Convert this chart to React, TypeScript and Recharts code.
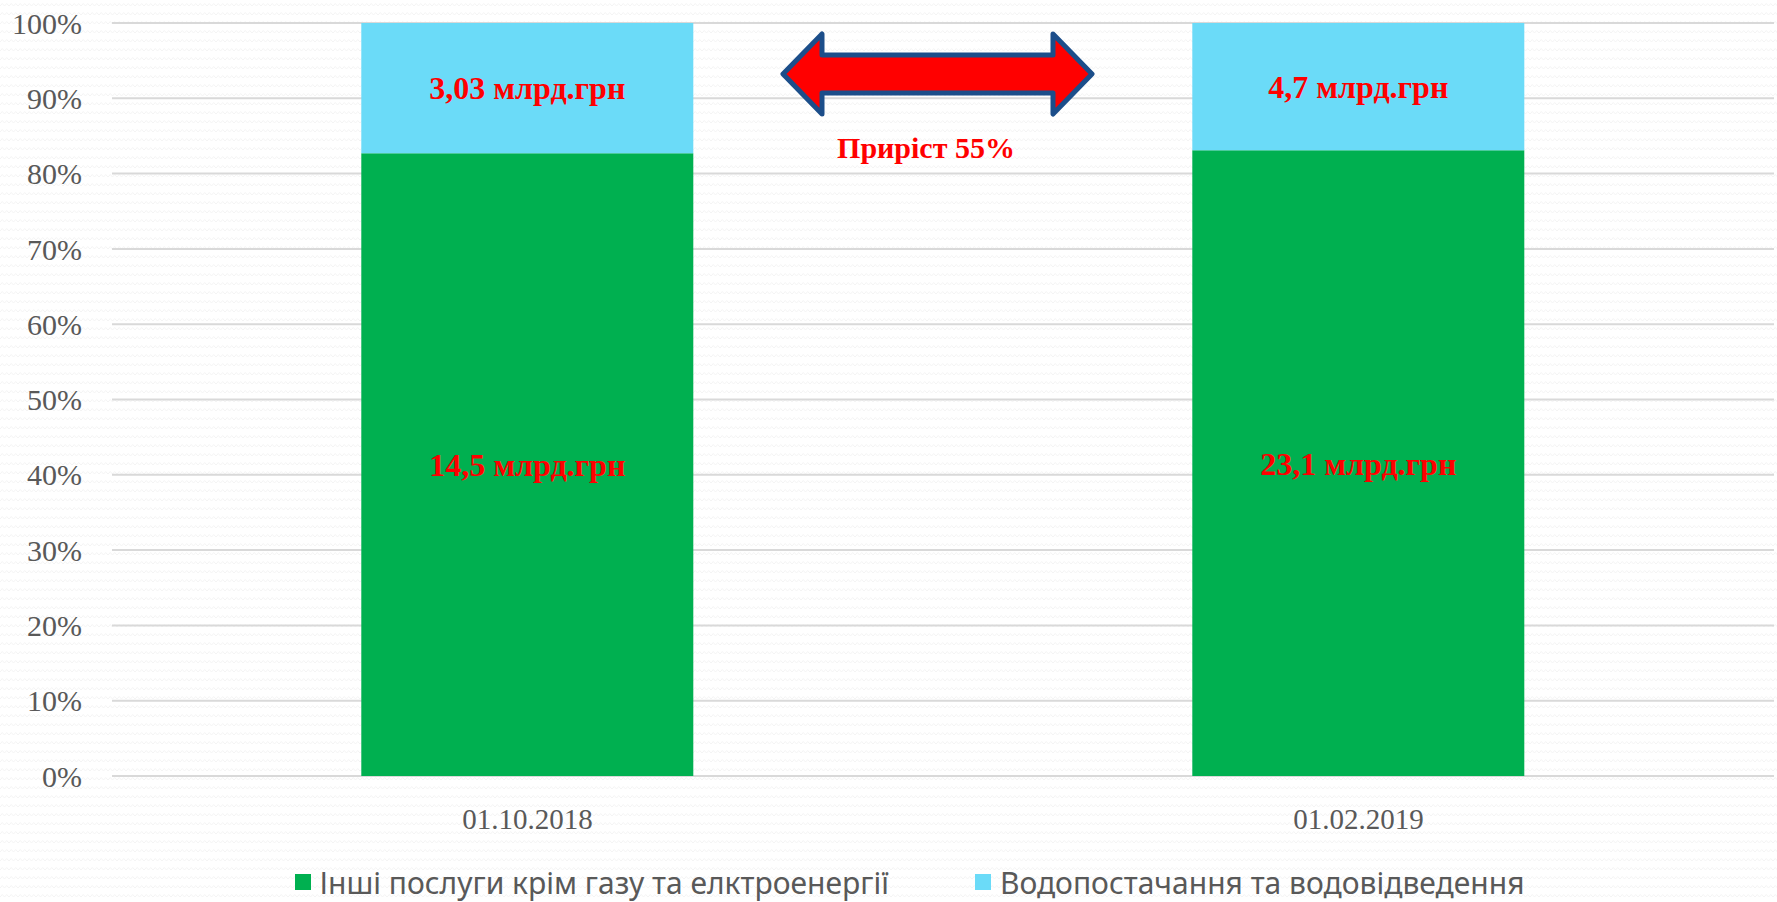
import React from "react";
import { BarChart, Bar, XAxis, YAxis, CartesianGrid, Legend, LabelList } from "recharts";

const categories = ["01.10.2018", "01.02.2019"];
const otherServices = [14.5, 23.1];
const waterSupply = [3.03, 4.7];
const otherLabels = ["14,5 млрд.грн", "23,1 млрд.грн"];
const waterLabels = ["3,03 млрд.грн", "4,7 млрд.грн"];
const yTicks = [0, 0.1, 0.2, 0.3, 0.4, 0.5, 0.6, 0.7, 0.8, 0.9, 1];
const seriesNames = ["Інші послуги крім газу та елктроенергії", "Водопостачання та водовідведення"];
const seriesColors = ["#00B050", "#6BDBF8"];
const growthLabel = "Приріст 55%";

const data = categories.map((c, i) => ({
  date: c,
  other: otherServices[i],
  water: waterSupply[i],
  otherLabel: otherLabels[i],
  waterLabel: waterLabels[i],
}));

const W = 1777;
const H = 902;

const bgSvg =
  "data:image/svg+xml;utf8," +
  encodeURIComponent(
    "<svg xmlns='http://www.w3.org/2000/svg' width='9' height='9'><path d='M0 6 L2.25 3.5 L4.5 6 L6.75 3.5 L9 6' fill='none' stroke='#F4F4F4' stroke-width='1'/></svg>"
  );

const LegendContent = () => (
  <div
    style={{
      height: 40,
      display: "flex",
      alignItems: "center",
      justifyContent: "center",
      paddingLeft: 45,
      fontFamily: "'Noto Sans', sans-serif",
      fontSize: 30,
      color: "#595959",
    }}
  >
    {seriesNames.map((n, i) => (
      <div key={n} style={{ display: "flex", alignItems: "center", marginLeft: i === 0 ? 0 : 86 }}>
        <div style={{ width: 16, height: 16, background: seriesColors[i], marginRight: 9 }} />
        <span style={{ whiteSpace: "nowrap" }}>{n}</span>
      </div>
    ))}
  </div>
);

const labelStyle = {
  fill: "#FF0000",
  fontFamily: "'Liberation Serif', serif",
  fontWeight: 700,
  fontSize: 32,
};

export default function App() {
  return (
    <div
      style={{
        position: "relative",
        width: W,
        height: H,
        backgroundColor: "#FFFFFF",
        backgroundImage: `url("${bgSvg}")`,
      }}
    >
      <style>{"body{margin:0;}"}</style>
      <BarChart
        width={W}
        height={H}
        data={data}
        stackOffset="expand"
        barCategoryGap="30%"
        margin={{ top: 23, right: 3, left: 0, bottom: 0 }}
      >
        <CartesianGrid vertical={false} stroke="#D9D9D9" strokeWidth={2} />
        <XAxis
          dataKey="date"
          axisLine={false}
          tickLine={false}
          tickSize={0}
          tickMargin={32}
          height={86}
          tick={{ fill: "#595959", fontSize: 29, fontFamily: "'Liberation Serif', serif" }}
        />
        <YAxis
          domain={[0, 1]}
          ticks={yTicks}
          width={112}
          axisLine={false}
          tickLine={false}
          tickSize={0}
          tickMargin={30}
          tickFormatter={(v: number) => `${Math.round(v * 100)}%`}
          tick={{ fill: "#595959", fontSize: 30, fontFamily: "'Liberation Serif', serif" }}
        />
        <Legend verticalAlign="bottom" content={<LegendContent />} />
        <Bar dataKey="other" name={seriesNames[0]} stackId="a" fill={seriesColors[0]} isAnimationActive={false}>
          <LabelList dataKey="otherLabel" position="center" style={labelStyle} />
        </Bar>
        <Bar dataKey="water" name={seriesNames[1]} stackId="a" fill={seriesColors[1]} isAnimationActive={false}>
          <LabelList dataKey="waterLabel" position="center" style={labelStyle} />
        </Bar>
      </BarChart>
      <svg
        width={W}
        height={H}
        style={{ position: "absolute", left: 0, top: 0, pointerEvents: "none" }}
      >
        <polygon
          points="783,74 822,34 822,55 1053,55 1053,34 1092,74 1053,114 1053,93 822,93 822,114"
          fill="#FF0000"
          stroke="#1C4E8A"
          strokeWidth={5}
          strokeLinejoin="round"
        />
        <text
          x={926}
          y={158}
          textAnchor="middle"
          fill="#FF0000"
          fontFamily="'Liberation Serif', serif"
          fontWeight={700}
          fontSize={30}
        >
          {growthLabel}
        </text>
      </svg>
    </div>
  );
}
